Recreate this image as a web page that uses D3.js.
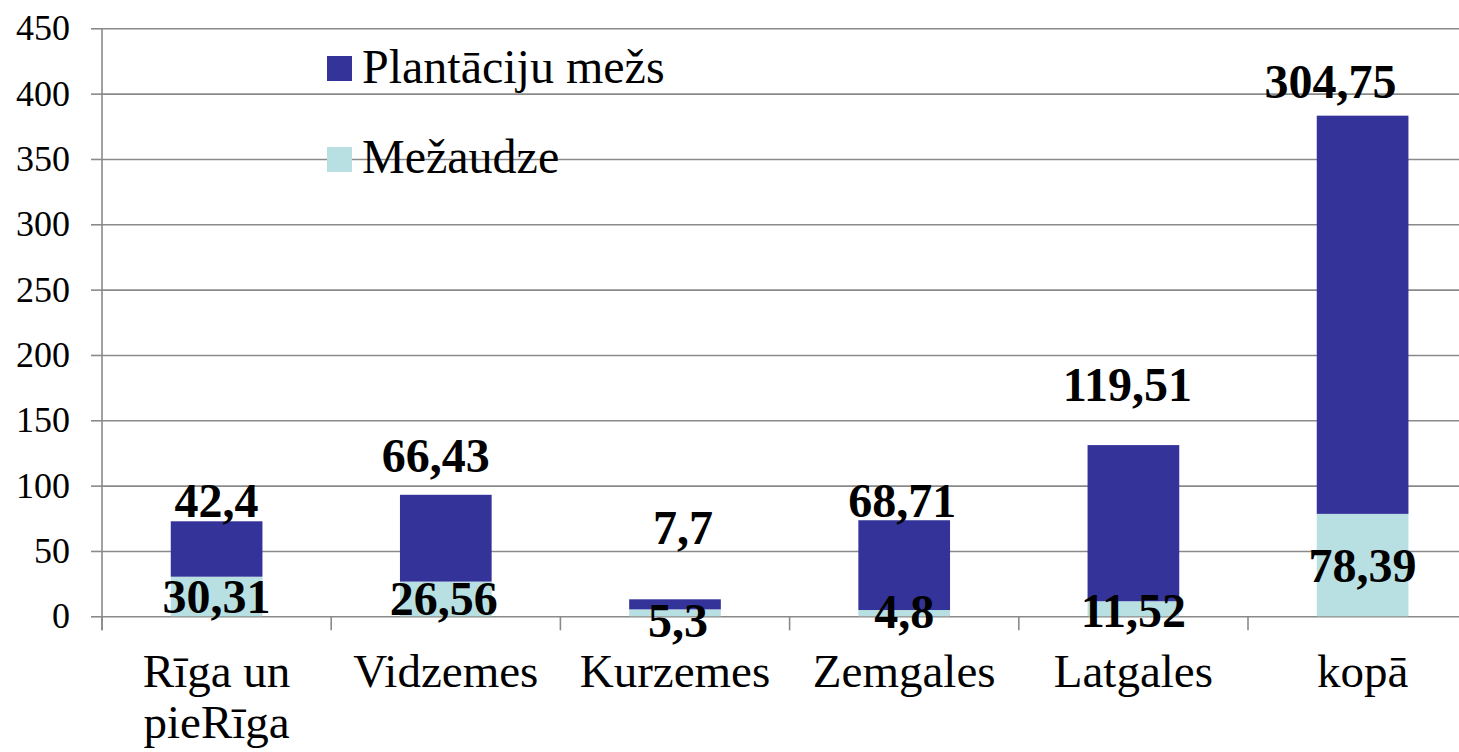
<!DOCTYPE html>
<html>
<head>
<meta charset="utf-8">
<script src="https://cdn.jsdelivr.net/npm/d3@7"></script>
<style>
  body { margin: 0; background: #fff; }
  svg, svg text { font-family: "Liberation Serif", "Times New Roman", serif; }
  svg { display: block; }
</style>
</head>
<body>
<div id="chart"></div>
<script>
// dati
const categories = ["Rīga un pieRīga", "Vidzemes", "Kurzemes", "Zemgales", "Latgales", "kopā"];
const categoryLines = [["Rīga un", "pieRīga"], ["Vidzemes"], ["Kurzemes"], ["Zemgales"], ["Latgales"], ["kopā"]];
const mezaudze = [30.31, 26.56, 5.3, 4.8, 11.52, 78.39];
const plantaciju = [42.4, 66.43, 7.7, 68.71, 119.51, 304.75];
const seriesNames = ["Plantāciju mežs", "Mežaudze"];
const yTicks = [0, 50, 100, 150, 200, 250, 300, 350, 400, 450];

document.addEventListener("DOMContentLoaded", function () {
  const W = 1459, H = 752;
  const darkColor = "#333399";
  const lightColor = "#b8dfe2";
  const gridColor = "#8a8a8a";
  const serif = "'Liberation Serif', 'Times New Roman', serif";

  const svg = d3.select("#chart")
                .append("svg")
                .attr("width", W)
                .attr("height", H);

  const x0 = 102, step = 229.2;
  const x = d3.scaleBand()
              .domain(categories)
              .range([x0, x0 + step * categories.length])
              .paddingInner(0.6)
              .paddingOuter(0.3);

  const y = d3.scaleLinear().domain([0, 450]).range([616.3, 28.3]);

  // rezgis
  svg.append("g")
     .attr("transform", `translate(${x0},0)`)
     .call(d3.axisLeft(y).tickValues(yTicks).tickSize(-(W - x0)).tickFormat(""))
     .call(g => g.select(".domain").remove())
     .selectAll("line")
     .attr("stroke", gridColor)
     .attr("stroke-width", 1.6);

  // y ass
  const yAxis = svg.append("g")
     .attr("transform", `translate(${x0},0)`)
     .call(d3.axisLeft(y).tickValues(yTicks).tickSize(11).tickPadding(21));
  yAxis.attr("font-family", serif).attr("font-size", 36);
  yAxis.select(".domain").remove();
  yAxis.selectAll("line").attr("stroke", gridColor).attr("stroke-width", 1.6);
  yAxis.selectAll("text")
       .attr("fill", "#000")
       .style("font-family", serif)
       .style("font-size", "36px");

  svg.append("line")
     .attr("x1", x0).attr("x2", x0)
     .attr("y1", y(450)).attr("y2", y(0) + 14)
     .attr("stroke", gridColor).attr("stroke-width", 1.6);

  // x ass ieskaites
  svg.append("g")
     .selectAll("line")
     .data(d3.range(categories.length + 1))
     .enter()
     .append("line")
     .attr("x1", i => x0 + i * x.step())
     .attr("x2", i => x0 + i * x.step())
     .attr("y1", y(0))
     .attr("y2", y(0) + 14)
     .attr("stroke", gridColor)
     .attr("stroke-width", 1.6);

  const rows = categories.map((c, i) => ({ cat: c, lines: categoryLines[i], low: mezaudze[i], high: plantaciju[i] }));

  // stabini
  const bars = svg.append("g");
  bars.selectAll(".low")
      .data(rows)
      .enter()
      .append("rect")
      .attr("class", "low")
      .attr("x", d => x(d.cat))
      .attr("width", x.bandwidth())
      .attr("y", d => y(d.low))
      .attr("height", d => y(0) - y(d.low))
      .attr("fill", lightColor);

  bars.selectAll(".high")
      .data(rows)
      .enter()
      .append("rect")
      .attr("class", "high")
      .attr("x", d => x(d.cat))
      .attr("width", x.bandwidth())
      .attr("y", d => y(d.low + d.high))
      .attr("height", d => y(d.low) - y(d.low + d.high))
      .attr("fill", darkColor);

  // datu etiketes (novietotas ar roku, kā oriģinālā)
  const topNudge = [-4, -23, -55, -3, -44, -18];
  const topNudgeX = [0, -10, 8, -2, -6, -32];
  const lowNudge = [17, 16, 24, 15, 18, 17];
  const lowNudgeX = [0, -2, 3, 0, 0, 0];
  const fmt = v => String(v).replace(".", ",");

  const labels = svg.append("g")
                    .attr("text-anchor", "middle")
                    .style("font-size", "48px")
                    .style("font-weight", "bold");

  labels.selectAll(".lt")
        .data(rows)
        .enter()
        .append("text")
        .attr("x", (d, i) => x(d.cat) + x.bandwidth() / 2 + topNudgeX[i])
        .attr("y", (d, i) => y(d.low + d.high) + topNudge[i])
        .text(d => fmt(d.high));

  labels.selectAll(".lb")
        .data(rows)
        .enter()
        .append("text")
        .attr("x", (d, i) => x(d.cat) + x.bandwidth() / 2 + lowNudgeX[i])
        .attr("y", (d, i) => (y(0) + y(d.low)) / 2 + lowNudge[i])
        .text(d => fmt(d.low));

  // kategoriju nosaukumi
  const catText = svg.append("g")
                     .attr("text-anchor", "middle")
                     .style("font-size", "47px")
                     .selectAll("text")
                     .data(rows)
                     .enter()
                     .append("text")
                     .attr("x", d => x(d.cat) + x.bandwidth() / 2)
                     .attr("y", 687);
  catText.selectAll("tspan")
         .data(d => d.lines.map(l => ({ l, cx: x(d.cat) + x.bandwidth() / 2 })))
         .enter()
         .append("tspan")
         .attr("x", d => d.cx)
         .attr("dy", (d, i) => i === 0 ? 0 : 51)
         .text(d => d.l);

  // legenda
  const legend = svg.append("g");
  const legendColors = [darkColor, lightColor];
  legend.selectAll("rect")
        .data(seriesNames)
        .enter()
        .append("rect")
        .attr("x", 327)
        .attr("y", (d, i) => 56 + i * 91)
        .attr("width", 25)
        .attr("height", 25)
        .attr("fill", (d, i) => legendColors[i]);
  legend.selectAll("text")
        .data(seriesNames)
        .enter()
        .append("text")
        .attr("x", 362)
        .attr("y", (d, i) => 83 + i * 90)
        .style("font-size", "48px")
        .text(d => d);
});
</script>
</body>
</html>
